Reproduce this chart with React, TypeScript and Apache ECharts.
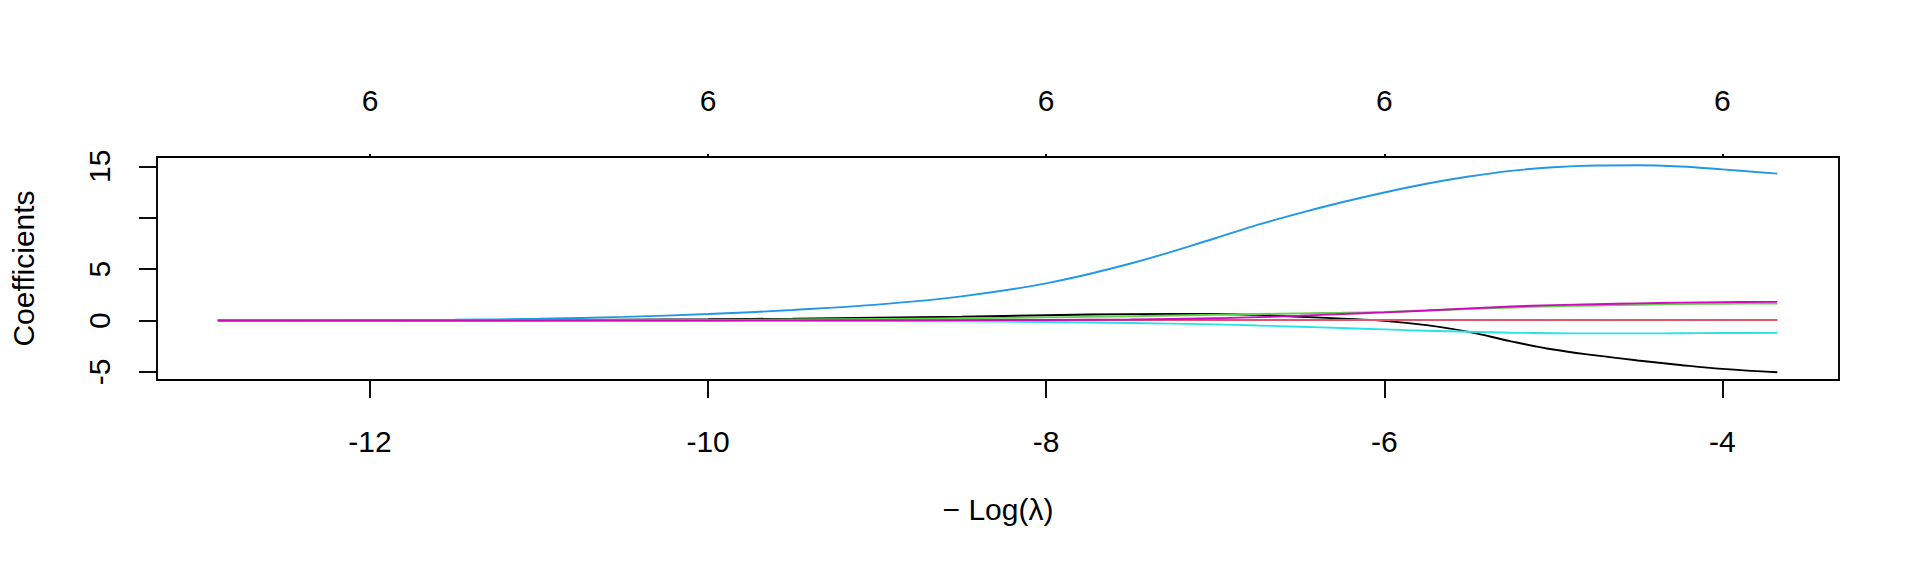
import React, { useEffect, useRef } from "react";
import * as echarts from "echarts";

// -Log(lambda) grid
const xs = [-12.9, -12.5, -12, -11.5, -11, -10.5, -10, -9.5, -9, -8.5, -8, -7.5, -7, -6.75, -6.5, -6.25, -6, -5.75, -5.5, -5.25, -5, -4.75, -4.5, -4.25, -4, -3.675];

const coefBlack = [0, 0, 0.01, 0.02, 0.05, 0.09, 0.13, 0.19, 0.27, 0.37, 0.52, 0.62, 0.64, 0.55, 0.37, 0.19, -0.03, -0.45, -1.1, -2.02, -2.82, -3.39, -3.88, -4.32, -4.7, -5.02];
const coefRed = [0, 0, 0, 0.01, 0.01, 0.02, 0.02, 0.03, 0.03, 0.04, 0.04, 0.05, 0.05, 0.05, 0.05, 0.05, 0.05, 0.05, 0.05, 0.05, 0.05, 0.05, 0.05, 0.05, 0.05, 0.05];
const coefGreen = [0, 0, 0.01, 0.01, 0.02, 0.04, 0.06, 0.1, 0.15, 0.22, 0.31, 0.42, 0.56, 0.63, 0.7, 0.76, 0.84, 0.97, 1.12, 1.27, 1.38, 1.47, 1.54, 1.6, 1.64, 1.65];
const coefBlue = [0, 0.01, 0.03, 0.08, 0.17, 0.36, 0.63, 1.03, 1.55, 2.35, 3.62, 5.55, 8.0, 9.3, 10.45, 11.5, 12.45, 13.3, 14.0, 14.55, 14.9, 15.07, 15.1, 14.98, 14.7, 14.28];
const coefCyan = [0, 0, 0, 0, 0, -0.01, -0.02, -0.03, -0.05, -0.08, -0.14, -0.24, -0.37, -0.48, -0.6, -0.73, -0.86, -0.99, -1.09, -1.18, -1.23, -1.25, -1.25, -1.23, -1.21, -1.2];
const coefMagenta = [0, 0, 0, 0, 0, 0.01, 0.01, 0.02, 0.03, 0.04, 0.06, 0.1, 0.22, 0.33, 0.47, 0.63, 0.79, 0.97, 1.18, 1.36, 1.5, 1.59, 1.67, 1.74, 1.79, 1.82];

const seriesList = [
  { name: "V1", color: "#000000", values: coefBlack },
  { name: "V2", color: "#DF536B", values: coefRed },
  { name: "V3", color: "#61D04F", values: coefGreen },
  { name: "V4", color: "#2297E6", values: coefBlue },
  { name: "V5", color: "#28E2E5", values: coefCyan },
  { name: "V6", color: "#CD0BBC", values: coefMagenta },
];

const xTicks = [-12, -10, -8, -6, -4];
const topTickValues = [-12, -10, -8, -6, -4];
const topLabels = ["6", "6", "6", "6", "6"];
const yTicks = [-5, 0, 5, 10, 15];
const yLabelValues = [-5, 0, 5, 15];

const FONT = "Liberation Sans, Arial, Helvetica, sans-serif";

export default function App() {
  const ref = useRef<HTMLDivElement>(null);
  useEffect(() => {
    if (!ref.current) return;
    const chart = echarts.init(ref.current, undefined, { renderer: "svg" });
    const xMin = -13.26;
    const xMax = -3.31;
    const option: any = {
      animation: false,
      backgroundColor: "#ffffff",
      grid: {
        left: 157,
        right: 81,
        top: 157,
        bottom: 196,
        show: true,
        borderColor: "#000000",
        borderWidth: 1.9,
        backgroundColor: "transparent",
      },
      xAxis: [
        {
          type: "value",
          position: "bottom",
          min: xMin,
          max: xMax,
          splitLine: { show: false },
          axisLine: { show: false, onZero: false },
          axisTick: {
            show: true,
            customValues: xTicks,
            length: 18,
            inside: false,
            lineStyle: { color: "#000", width: 1.9 },
          },
          axisLabel: {
            customValues: xTicks,
            margin: 46,
            color: "#000",
            fontSize: 30,
            fontFamily: FONT,
            formatter: (v: number) => String(v),
          },
        },
        {
          type: "value",
          position: "top",
          min: xMin,
          max: xMax,
          splitLine: { show: false },
          axisLine: { show: false, onZero: false },
          axisTick: {
            show: true,
            customValues: topTickValues,
            length: 3,
            inside: false,
            lineStyle: { color: "#000", width: 1.9 },
          },
          axisLabel: {
            customValues: topTickValues,
            margin: 42,
            color: "#000",
            fontSize: 30,
            fontFamily: FONT,
            formatter: (v: number) => {
              const i = topTickValues.indexOf(v);
              return i >= 0 ? topLabels[i] : "";
            },
          },
        },
      ],
      yAxis: {
        type: "value",
        min: -5.78,
        max: 15.9,
        splitLine: { show: false },
        axisLine: { show: false, onZero: false },
        axisTick: {
          show: true,
          customValues: yTicks,
          length: 18,
          inside: false,
          lineStyle: { color: "#000", width: 1.9 },
        },
        axisLabel: {
          customValues: yLabelValues,
          rotate: 90,
          margin: 43,
          color: "#000",
          fontSize: 30,
          fontFamily: FONT,
          formatter: (v: number) => String(v),
        },
      },
      graphic: [
        {
          type: "text",
          x: 23,
          y: 268.5,
          rotation: Math.PI / 2,
          style: {
            text: "Coefficients",
            fontSize: 30,
            fontFamily: FONT,
            fill: "#000",
            textAlign: "center",
            textVerticalAlign: "middle",
          },
        },
        {
          type: "text",
          x: 998,
          y: 509,
          style: {
            text: "− Log(λ)",
            fontSize: 30,
            fontFamily: FONT,
            fill: "#000",
            textAlign: "center",
            textVerticalAlign: "middle",
          },
        },
      ],
      series: seriesList.map((s) => ({
        name: s.name,
        type: "line",
        xAxisIndex: 0,
        showSymbol: false,
        smooth: 0.4,
        lineStyle: { color: s.color, width: 1.9 },
        itemStyle: { color: s.color },
        data: xs.map((x, i) => [x, s.values[i]]),
      })),
    };
    chart.setOption(option);
    return () => chart.dispose();
  }, []);
  return (
    <div
      ref={ref}
      style={{ position: "fixed", left: 0, top: 0, width: 1920, height: 576, background: "#fff" }}
    />
  );
}
